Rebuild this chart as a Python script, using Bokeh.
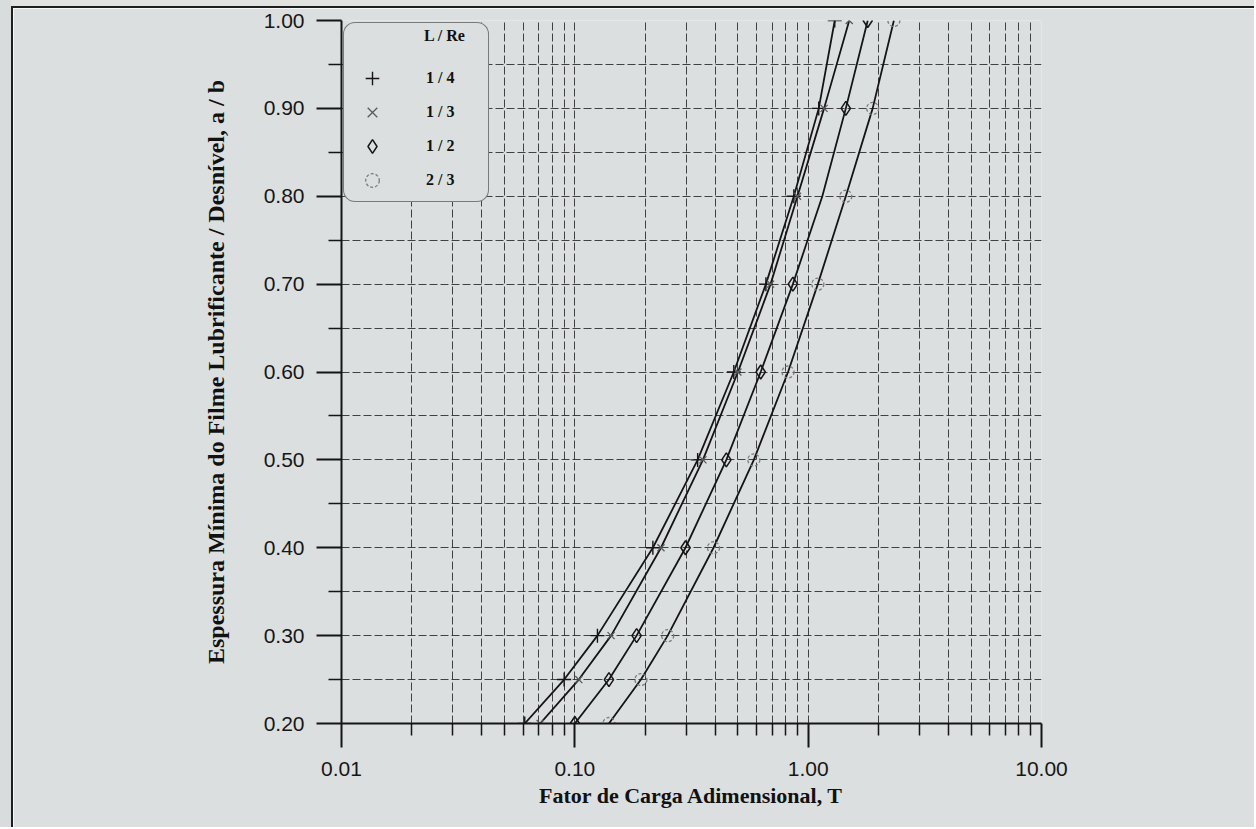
from bokeh.plotting import figure
from bokeh.models import Range1d, FixedTicker, PrintfTickFormatter, Legend, LegendItem
from bokeh.embed import file_html
from bokeh.resources import INLINE

# ---------------- data ----------------
ab_levels = [0.20, 0.25, 0.30, 0.40, 0.50, 0.60, 0.70, 0.80, 0.90, 1.00]
T_quarter = [0.061, 0.090, 0.125, 0.216, 0.336, 0.480, 0.659, 0.868, 1.11, 1.30]
T_third = [0.071, 0.104, 0.143, 0.234, 0.354, 0.500, 0.690, 0.900, 1.17, 1.50]
T_half = [0.100, 0.140, 0.184, 0.298, 0.446, 0.626, 0.860, 1.150, 1.45, 1.80]
T_twothirds = [0.140, 0.192, 0.250, 0.393, 0.585, 0.820, 1.10, 1.45, 1.89, 2.33]

# the 1/2 series shows no marker at a/b = 0.80
half_marker_ab = [0.20, 0.25, 0.30, 0.40, 0.50, 0.60, 0.70, 0.90, 1.00]
half_marker_T = [0.100, 0.140, 0.184, 0.298, 0.446, 0.626, 0.860, 1.45, 1.80]

series_labels = ["1 / 4", "1 / 3", "1 / 2", "2 / 3"]
legend_title = "L / Re"

x_major_ticks = [0.01, 0.1, 1.0, 10.0]
x_minor_ticks = [0.02, 0.03, 0.04, 0.05, 0.06, 0.07, 0.08, 0.09,
                 0.2, 0.3, 0.4, 0.5, 0.6, 0.7, 0.8, 0.9,
                 2.0, 3.0, 4.0, 5.0, 6.0, 7.0, 8.0, 9.0]
y_major_ticks = [0.2, 0.3, 0.4, 0.5, 0.6, 0.7, 0.8, 0.9, 1.0]
y_minor_ticks = [0.25, 0.35, 0.45, 0.55, 0.65, 0.75, 0.85, 0.95]

x_title = "Fator de Carga Adimensional, T"
y_title = "Espessura Mínima do Filme Lubrificante / Desnível, a / b"

# ---------------- styling ----------------
BG = "#dcdfdf"
INK = "#151515"
GRID = "#262626"
SERIF = "Liberation Serif"
SANS = "Liberation Sans"

p = figure(width=1243, height=821,
           x_axis_type="log",
           x_range=Range1d(0.01, 10.0), y_range=Range1d(0.2, 1.0),
           output_backend="svg", toolbar_location=None,
           min_border_left=328, min_border_right=215,
           min_border_top=12, min_border_bottom=106)

p.styles = {
    "margin-left": "11px",
    "margin-top": "6px",
    "border-left": "2px solid #1e1e1e",
    "border-top": "2px solid #1e1e1e",
    "box-shadow": "0 -8px 0 0 #dfe2df, -13px 0 0 0 #d9dcdc, -13px -8px 0 0 #d9dcdc",
}

p.background_fill_color = BG
p.border_fill_color = BG
p.outline_line_color = None

# axes
p.xaxis.ticker = FixedTicker(ticks=x_major_ticks, minor_ticks=x_minor_ticks)
p.yaxis.ticker = FixedTicker(ticks=y_major_ticks, minor_ticks=y_minor_ticks)
p.xaxis.formatter = PrintfTickFormatter(format="%.2f")
p.yaxis.formatter = PrintfTickFormatter(format="%.2f")

for ax in (p.xaxis, p.yaxis):
    ax.axis_line_color = INK
    ax.axis_line_width = 2
    ax.major_tick_line_color = INK
    ax.major_tick_line_width = 2
    ax.minor_tick_line_color = INK
    ax.minor_tick_line_width = 1.5
    ax.major_tick_in = 0
    ax.minor_tick_in = 0
    ax.major_label_text_font = SANS
    ax.major_label_text_font_size = "21px"
    ax.major_label_text_color = "#161616"
    ax.axis_label_text_font = SERIF
    ax.axis_label_text_font_style = "bold"
    ax.axis_label_text_color = "#111111"

p.xaxis.axis_label_text_font_size = "22px"
p.yaxis.axis_label_text_font_size = "24px"

p.xaxis.major_tick_out = 24
p.xaxis.minor_tick_out = 12
p.xaxis.major_label_standoff = 14
p.xaxis.axis_label = x_title
p.xaxis.axis_label_standoff = 4

p.yaxis.major_tick_out = 25
p.yaxis.minor_tick_out = 13
p.yaxis.major_label_standoff = 12
p.yaxis.axis_label = y_title
p.yaxis.axis_label_standoff = 32

# grids (every major and minor tick)
for g in (p.xgrid, p.ygrid):
    g.grid_line_color = GRID
    g.grid_line_alpha = 0.85
    g.grid_line_dash = "8 3"
    g.grid_line_width = 1
    g.minor_grid_line_color = GRID
    g.minor_grid_line_alpha = 0.85
    g.minor_grid_line_dash = "8 3"
    g.minor_grid_line_width = 1

# curves
for T in (T_quarter, T_third, T_half, T_twothirds):
    p.line(T, ab_levels, line_color=INK, line_width=1.8)

# markers
r_q = p.scatter(T_quarter, ab_levels, marker="cross", size=14,
                line_color=INK, line_width=1.4)
r_t = p.scatter(T_third, ab_levels, marker="x", size=10,
                line_color="#5a5a5a", line_width=1.3)
r_h = p.scatter(half_marker_T, half_marker_ab, marker="diamond", size=14,
                fill_color=None, line_color=INK, line_width=1.5)
r_w = p.scatter(T_twothirds, ab_levels, marker="circle", size=12,
                fill_color=None, line_color="#7c7c7c", line_width=1.3,
                line_dash="3 2")

# legend title is indented with non-breaking spaces so it sits over the labels
TITLE_INDENT = "\u00a0" * 19
items = [LegendItem(label=lbl, renderers=[r])
         for lbl, r in zip(series_labels, (r_q, r_t, r_h, r_w))]
legend = Legend(items=items, location="top_left", margin=2, padding=4,
                glyph_width=48, glyph_height=34, label_height=34,
                label_width=58, label_standoff=30, spacing=0,
                title=TITLE_INDENT + legend_title,
                title_text_font=SERIF, title_text_font_size="16px",
                title_text_font_style="bold", title_text_color="#111111",
                title_standoff=16,
                label_text_font=SERIF, label_text_font_size="16px",
                label_text_font_style="bold", label_text_color="#111111",
                border_line_color=INK, border_line_width=1.5,
                background_fill_color=BG, background_fill_alpha=1.0)
if "border_radius" in Legend.properties():
    legend.border_radius = 12
p.add_layout(legend)

open("out.html", "w").write(file_html(p, INLINE))
